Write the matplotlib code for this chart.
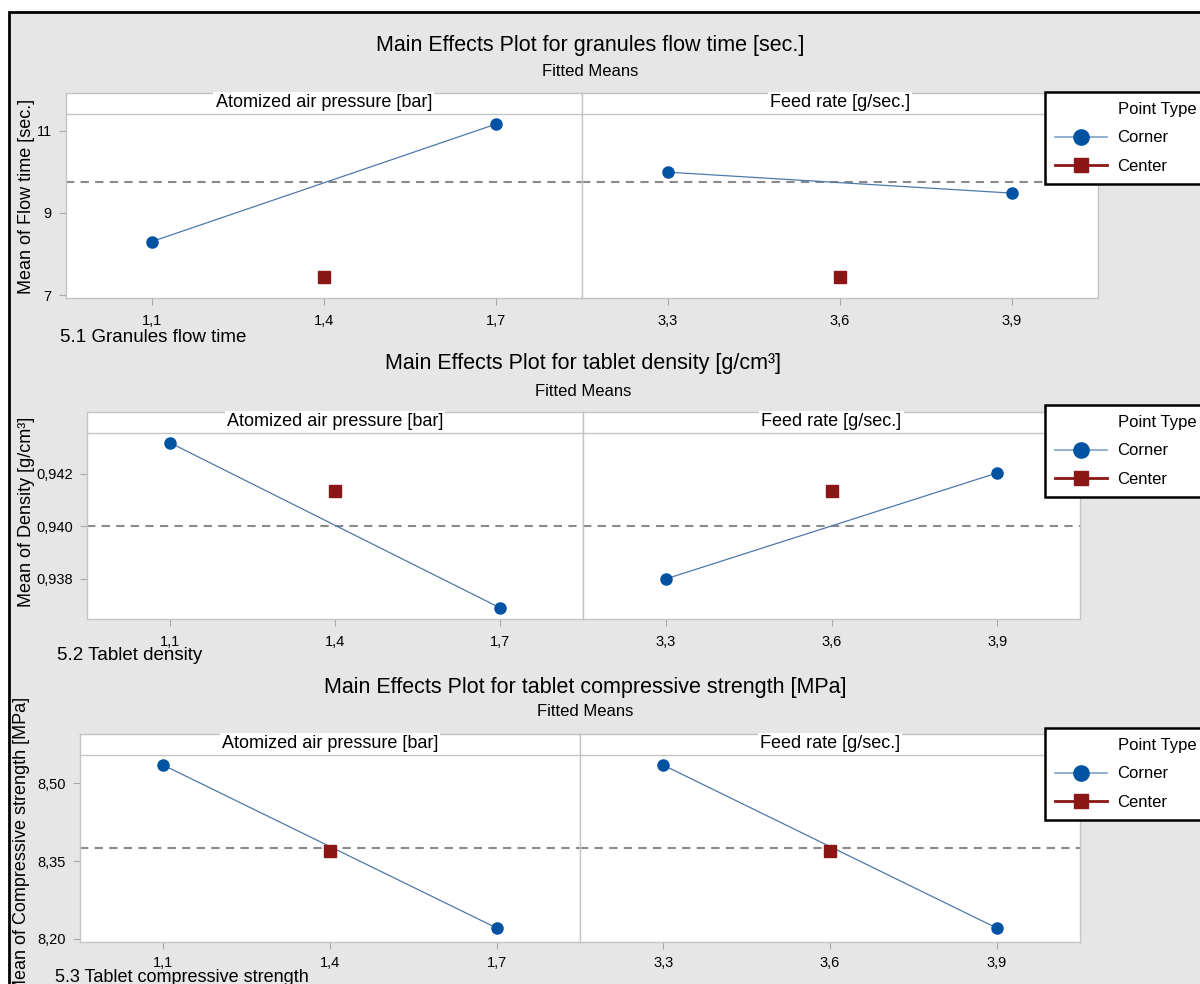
import matplotlib
matplotlib.use('Agg')
import matplotlib.pyplot as plt
from matplotlib.lines import Line2D
from matplotlib.patches import Rectangle

plt.rcParams['font.family'] = ['Liberation Sans Narrow', 'Liberation Sans', 'DejaVu Sans']

# factor levels
pressure_levels = [1.1, 1.7]
pressure_center = 1.4
feed_levels = [3.3, 3.9]
feed_center = 3.6
pressure_ticklabels = ['1,1', '1,4', '1,7']
feed_ticklabels = ['3,3', '3,6', '3,9']
factor_names = ['Atomized air pressure [bar]', 'Feed rate [g/sec.]']

# 5.1 granules flow time
flow_pressure = [8.30, 11.16]
flow_feed = [9.99, 9.48]
flow_center = [7.44, 7.44]
flow_mean = 9.74
flow_yticks = [7, 9, 11]
flow_yticklabels = ['7', '9', '11']

# 5.2 tablet density
density_pressure = [0.94320, 0.93688]
density_feed = [0.93799, 0.94204]
density_center = [0.94135, 0.94135]
density_mean = 0.9400
density_yticks = [0.938, 0.940, 0.942]
density_yticklabels = ['0,938', '0,940', '0,942']

# 5.3 tablet compressive strength
strength_pressure = [8.535, 8.221]
strength_feed = [8.535, 8.221]
strength_center = [8.370, 8.370]
strength_mean = 8.376
strength_yticks = [8.20, 8.35, 8.50]
strength_yticklabels = ['8,20', '8,35', '8,50']

W, H = 1200, 984
BLUE = '#0052a3'
LINEBLUE = '#4d79a8'
RED = '#8c1515'
GRID = '#c4c4c4'


def rect(x0, y0, x1, y1):
    return [x0 / W, 1 - y1 / H, (x1 - x0) / W, (y1 - y0) / H]


def draw_panel(fig, box, xsplit, ylim, corner_vals, center_vals, mean, yticks, yticklabels, xpad=6.5):
    x0, y0, x1, y1 = box
    axl = fig.add_axes(rect(x0, y0, xsplit, y1))
    axr = fig.add_axes(rect(xsplit, y0, x1, y1))
    levels = [pressure_levels, feed_levels]
    centers = [pressure_center, feed_center]
    ticklabels = [pressure_ticklabels, feed_ticklabels]
    for i, ax in enumerate([axl, axr]):
        ax.set_facecolor('white')
        for s in ax.spines.values():
            s.set_color(GRID)
            s.set_linewidth(1)
        lv = levels[i]
        ax.set_xlim(lv[0] - 0.15, lv[1] + 0.15)
        ax.set_ylim(ylim)
        ax.set_xticks([lv[0], centers[i], lv[1]])
        ax.set_xticklabels(ticklabels[i])
        ax.tick_params(axis='both', color='#a8a8a8', length=5, pad=5, labelsize=10.5)
        ax.tick_params(axis='x', pad=xpad)
        ax.axhline(mean, color='#8a8a8a', lw=1.5, ls=(0, (4, 3)), zorder=2)
        ax.plot(lv, corner_vals[i], color=LINEBLUE, lw=0.9, zorder=3)
        ax.plot(lv, corner_vals[i], 'o', color=BLUE, ms=8, zorder=4)
        ax.plot([centers[i]], [center_vals[i]], 's', color=RED, ms=8.5, zorder=4)
        strip = 0.898
        ax.plot([0, 1], [strip, strip], transform=ax.transAxes, color=GRID, lw=1, zorder=2)
        ax.text(0.5, (1 + strip) / 2 + 0.005, factor_names[i], transform=ax.transAxes,
                ha='center', va='center', fontsize=13, zorder=5,
                bbox=dict(facecolor='white', edgecolor='none', pad=1.5))
    axl.set_yticks(yticks)
    axl.set_yticklabels(yticklabels)
    axr.set_yticks(yticks)
    axr.tick_params(axis='y', left=False, labelleft=False)
    return axl, axr


def add_legend(fig, top):
    handles = [
        Line2D([], [], linestyle='none', label='Point Type'),
        Line2D([], [], color='#7ea3c9', lw=1.2, marker='o', ms=11, mfc=BLUE, mec=BLUE, label='Corner'),
        Line2D([], [], color=RED, lw=2, marker='s', ms=10, mfc=RED, mec=RED, label='Center'),
    ]
    leg = fig.legend(handles=handles, loc='upper left', bbox_to_anchor=(1045 / W, 1 - top / H),
                     fontsize=12, handlelength=3.1, handletextpad=0.65, borderpad=0.6,
                     labelspacing=0.8, frameon=True, fancybox=False, framealpha=1,
                     edgecolor='black', facecolor='white', borderaxespad=0)
    leg.get_frame().set_linewidth(1.8)
    return leg


fig = plt.figure(figsize=(12, 9.84), dpi=100, facecolor='white')
fig.add_artist(Rectangle((9 / W, -0.1), 1.2, 1.1 - 12 / H, transform=fig.transFigure,
                         facecolor='#e6e6e6', edgecolor='black', lw=2, zorder=0))

# panel 1
draw_panel(fig, (65.7, 93.3, 1098, 298.3), 582, (6.92, 11.91),
           [flow_pressure, flow_feed], flow_center, flow_mean, flow_yticks, flow_yticklabels)
fig.text(590 / W, 1 - 45 / H, 'Main Effects Plot for granules flow time [sec.]',
         ha='center', va='center', fontsize=15.5)
fig.text(590 / W, 1 - 72 / H, 'Fitted Means', ha='center', va='center', fontsize=12)
fig.text(27 / W, 1 - 196 / H, 'Mean of Flow time [sec.]', rotation=90,
         ha='center', va='center', fontsize=13)
fig.text(60 / W, 1 - 337 / H, '5.1 Granules flow time', ha='left', va='center', fontsize=13.5)
add_legend(fig, 92)

# panel 2
draw_panel(fig, (87, 411.7, 1080, 618.7), 583, (0.93647, 0.94438),
           [density_pressure, density_feed], density_center, density_mean,
           density_yticks, density_yticklabels)
fig.text(583 / W, 1 - 363 / H, 'Main Effects Plot for tablet density [g/cm³]',
         ha='center', va='center', fontsize=15.5)
fig.text(583 / W, 1 - 391 / H, 'Fitted Means', ha='center', va='center', fontsize=12)
fig.text(27 / W, 1 - 512 / H, 'Mean of Density [g/cm³]', rotation=90,
         ha='center', va='center', fontsize=13)
fig.text(57 / W, 1 - 656 / H, '5.2 Tablet density', ha='left', va='center', fontsize=13.5)
add_legend(fig, 405)

# panel 3
draw_panel(fig, (80, 734, 1080, 942), 580, (8.194, 8.595),
           [strength_pressure, strength_feed], strength_center, strength_mean,
           strength_yticks, strength_yticklabels, xpad=5)
fig.text(585 / W, 1 - 687 / H, 'Main Effects Plot for tablet compressive strength [MPa]',
         ha='center', va='center', fontsize=15.5)
fig.text(585 / W, 1 - 712 / H, 'Fitted Means', ha='center', va='center', fontsize=12)
fig.text(22 / W, 1 - 845 / H, 'Mean of Compressive strength [MPa]', rotation=90,
         ha='center', va='center', fontsize=13)
fig.text(55 / W, 1 - 977 / H, '5.3 Tablet compressive strength', ha='left', va='center', fontsize=13)
add_legend(fig, 728)

fig.savefig('out.png', dpi=100, facecolor=fig.get_facecolor())
